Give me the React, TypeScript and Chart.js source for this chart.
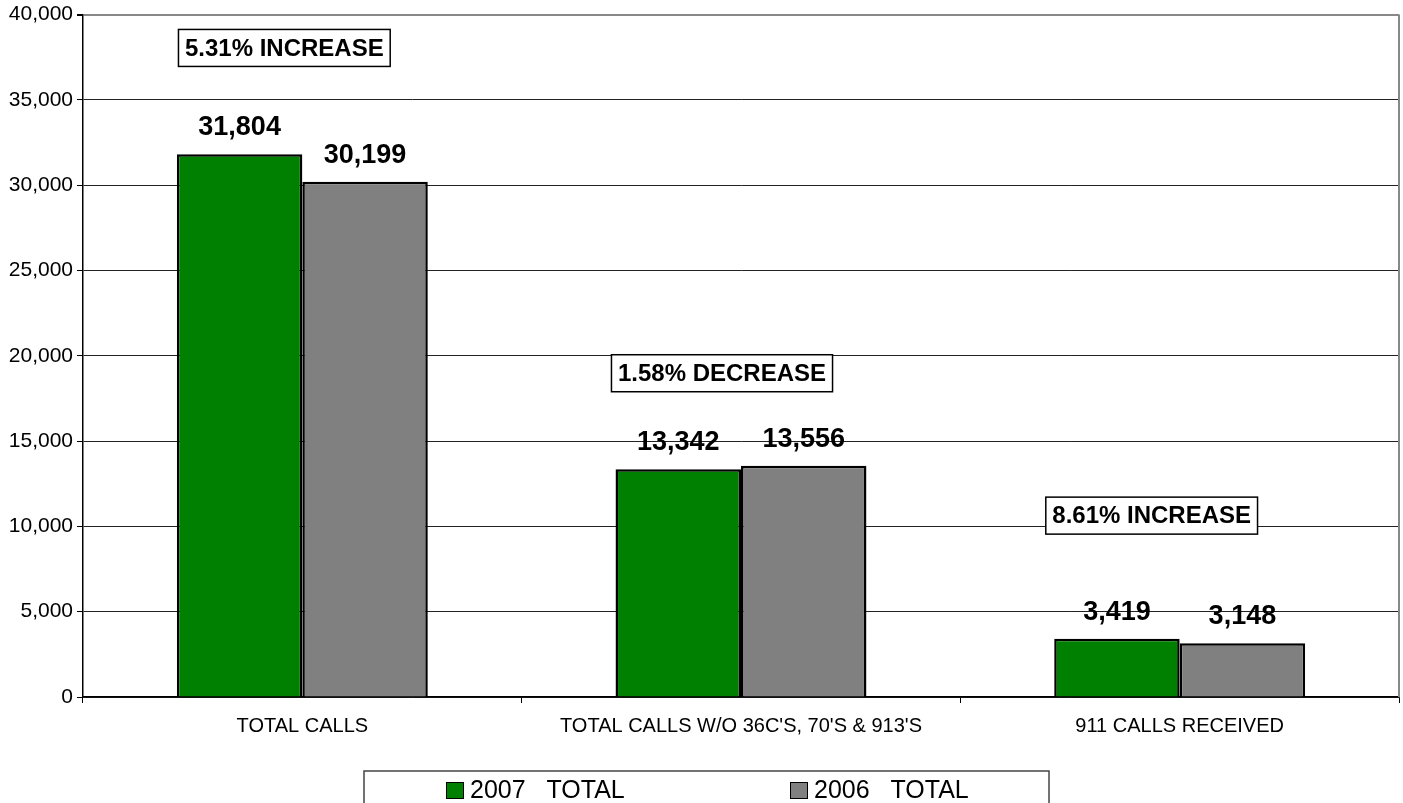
import React, { useEffect, useRef } from "react";
import { Chart, registerables } from "chart.js";

Chart.register(...registerables);

const categories = ["TOTAL CALLS", "TOTAL CALLS W/O 36C'S, 70'S & 913'S", "911 CALLS RECEIVED"];
const series2007 = [31804, 13342, 3419];
const series2006 = [30199, 13556, 3148];
const seriesLabels = ["2007   TOTAL", "2006   TOTAL"];
const annotationTexts = ["5.31% INCREASE", "1.58% DECREASE", "8.61% INCREASE"];
const annotationCats = [0, 1, 2];
const annotationValues = [38040, 18975, 10630];
const yTicksMax = 40000;
const yStep = 5000;

const FONT = "'Liberation Sans', Arial, Helvetica, sans-serif";
const fmt = (v: number) => v.toLocaleString("en-US");

const annotationOffsets = [-18, -19, -28];

const decorPlugin = {
  id: "decor",
  afterDatasetsDraw(chart: any) {
    const ctx = chart.ctx;
    const area = chart.chartArea;
    ctx.save();
    // right plot border
    ctx.strokeStyle = "#888";
    ctx.lineWidth = 2;
    ctx.beginPath();
    ctx.moveTo(area.right, area.top);
    ctx.lineTo(area.right, area.bottom);
    ctx.stroke();

    // data labels
    ctx.fillStyle = "#000";
    ctx.font = `bold 27px ${FONT}`;
    ctx.textAlign = "center";
    ctx.textBaseline = "alphabetic";
    chart.data.datasets.forEach((ds: any, di: number) => {
      const meta = chart.getDatasetMeta(di);
      meta.data.forEach((bar: any, i: number) => {
        ctx.fillText(fmt(ds.data[i]), bar.x, bar.y - 19);
      });
    });

    // annotation boxes
    const xs = chart.scales.x;
    const ys = chart.scales.y;
    ctx.font = `bold 24px ${FONT}`;
    ctx.textBaseline = "middle";
    annotationTexts.forEach((t, i) => {
      const cx = xs.getPixelForValue(annotationCats[i]) + annotationOffsets[i];
      const cy = ys.getPixelForValue(annotationValues[i]);
      const w = ctx.measureText(t).width + 13;
      const h = 37;
      ctx.fillStyle = "#fff";
      ctx.fillRect(cx - w / 2, cy - h / 2, w, h);
      ctx.strokeStyle = "#000";
      ctx.lineWidth = 1.5;
      ctx.strokeRect(cx - w / 2, cy - h / 2, w, h);
      ctx.fillStyle = "#000";
      ctx.fillText(t, cx, cy + 1);
    });

    // legend
    const lx = 364, ly = 771, lw = 685, lh = 60;
    ctx.strokeStyle = "#444";
    ctx.lineWidth = 1.5;
    ctx.strokeRect(lx, ly, lw, lh);
    const itemX = [446, 790];
    ctx.font = `25px ${FONT}`;
    ctx.textAlign = "left";
    ctx.textBaseline = "alphabetic";
    chart.data.datasets.forEach((ds: any, di: number) => {
      const x = itemX[di];
      ctx.fillStyle = ds.backgroundColor;
      ctx.fillRect(x, 782, 17, 16);
      ctx.strokeStyle = "#000";
      ctx.lineWidth = 1;
      ctx.strokeRect(x + 0.5, 782.5, 17, 16);
      ctx.fillStyle = "#000";
      ctx.fillText(ds.label, x + 24, 798);
    });
    ctx.restore();
  },
};

export default function App() {
  const ref = useRef<HTMLCanvasElement>(null);
  useEffect(() => {
    if (!ref.current) return;
    const chart = new Chart(ref.current, {
      type: "bar",
      data: {
        labels: categories,
        datasets: [
          {
            label: seriesLabels[0],
            data: series2007,
            backgroundColor: "#008000",
            borderColor: "#000",
            borderWidth: 2.5,
            categoryPercentage: 0.572,
            barPercentage: 1,
          },
          {
            label: seriesLabels[1],
            data: series2006,
            backgroundColor: "#808080",
            borderColor: "#000",
            borderWidth: 2.5,
            categoryPercentage: 0.572,
            barPercentage: 1,
          },
        ],
      },
      options: {
        animation: false,
        responsive: false,
        maintainAspectRatio: false,
        devicePixelRatio: 1,
        layout: { padding: { left: 0, top: 14, right: 4, bottom: 0 } },
        plugins: {
          legend: { display: false },
          tooltip: { enabled: false },
          title: { display: false },
        },
        scales: {
          x: {
            afterFit: (s: any) => {
              s.height = 106;
            },
            grid: {
              offset: true,
              drawOnChartArea: false,
              drawTicks: true,
              tickLength: 6,
              tickColor: "#000",
            },
            border: { color: "#000", width: 1.5 },
            ticks: {
              color: "#000",
              font: { family: FONT, size: 20 },
              padding: 11,
              maxRotation: 0,
              autoSkip: false,
            },
          },
          y: {
            min: 0,
            max: yTicksMax,
            afterFit: (s: any) => {
              s.width = 83;
            },
            grid: {
              color: (c: any) => (c.tick && c.tick.value === yTicksMax ? "#888" : "#222"),
              lineWidth: (c: any) => (c.tick && c.tick.value === yTicksMax ? 2 : 1),
              tickColor: "#000",
              tickLength: 6,
            },
            border: { color: "#000", width: 1.5 },
            ticks: {
              stepSize: yStep,
              color: "#000",
              font: { family: FONT, size: 21, lineHeight: 1 },
              padding: 4,
              callback: (v: any) => fmt(Number(v)),
            },
          },
        },
      },
      plugins: [decorPlugin],
    });
    return () => chart.destroy();
  }, []);
  return (
    <div style={{ position: "fixed", left: 0, top: 0, width: 1403, height: 803, background: "#fff" }}>
      <canvas ref={ref} width={1403} height={803} style={{ width: 1403, height: 803, display: "block" }} />
    </div>
  );
}
